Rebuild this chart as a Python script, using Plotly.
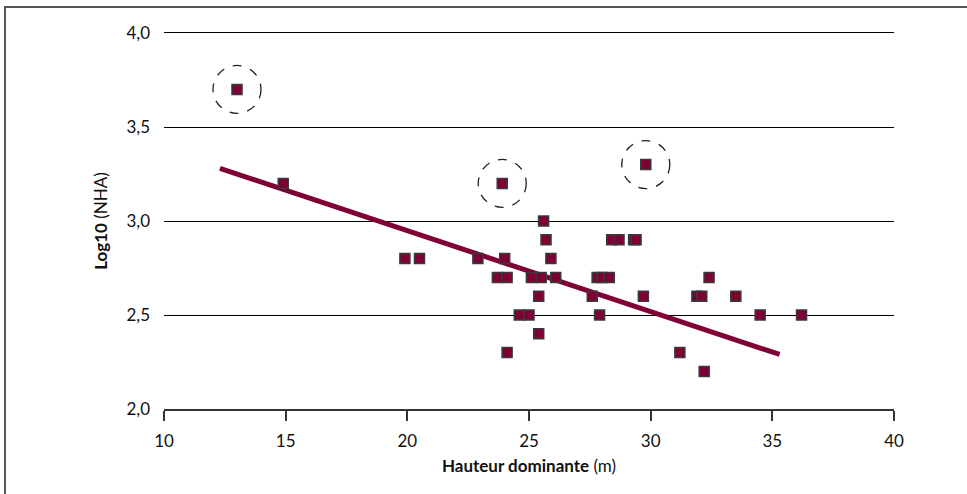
import plotly.graph_objects as go

# Data
hauteur = [13.0, 14.9, 19.9, 20.5, 22.9, 23.9, 24.0, 23.7, 24.1, 24.1,
           24.6, 25.0, 25.1, 25.4, 25.4, 25.5, 25.6, 25.7, 25.9, 26.1,
           27.6, 27.8, 27.9, 28.0, 28.3, 28.4, 28.7, 29.3, 29.4, 29.7,
           29.8, 31.2, 31.9, 32.1, 32.2, 32.4, 33.5, 34.5, 36.2]
log_nha = [3.7, 3.2, 2.8, 2.8, 2.8, 3.2, 2.8, 2.7, 2.7, 2.3,
           2.5, 2.5, 2.7, 2.6, 2.4, 2.7, 3.0, 2.9, 2.8, 2.7,
           2.6, 2.7, 2.5, 2.7, 2.7, 2.9, 2.9, 2.9, 2.9, 2.6,
           3.3, 2.3, 2.6, 2.6, 2.2, 2.7, 2.6, 2.5, 2.5]
trend_x = [12.3, 35.3]
trend_y = [3.28, 2.29]
outliers_x = [13.0, 23.9, 29.8]
outliers_y = [3.7, 3.2, 3.3]

x_ticks = [10, 15, 20, 25, 30, 35, 40]
y_ticks = [2.0, 2.5, 3.0, 3.5, 4.0]

MAROON = "#7f0035"
FONT = "Lato"

fig = go.Figure()
fig.add_trace(go.Scatter(x=trend_x, y=trend_y, mode="lines",
                         line=dict(color=MAROON, width=5), hoverinfo="skip"))
fig.add_trace(go.Scatter(x=hauteur, y=log_nha, mode="markers",
                         marker=dict(symbol="square", size=10, color=MAROON,
                                     line=dict(color="#3a3a3a", width=1.5))))

shapes = []
for ox, oy in zip(outliers_x, outliers_y):
    shapes.append(dict(type="circle", xref="x", yref="y",
                       xsizemode="pixel", ysizemode="pixel",
                       xanchor=ox, yanchor=oy, x0=-24, x1=24, y0=-24, y1=24,
                       line=dict(color="#222", width=1.3, dash="dash")))
# top gridline (at the upper edge of the y range), nudged half a pixel for crispness
top_y = 1 + 0.5 / 376
shapes.append(dict(type="line", xref="paper", yref="paper", x0=0, x1=1,
                   y0=top_y, y1=top_y, line=dict(color="#000", width=1), layer="below"))
# outer frame
shapes.append(dict(type="rect", xref="paper", yref="paper",
                   x0=(5 - 164) / 730, x1=1.3, y0=-0.5, y1=1 + (33 - 7) / 376,
                   line=dict(color="#555", width=2), layer="below"))

fig.update_layout(
    width=967, height=494,
    margin=dict(l=164, r=73, t=33, b=85),
    paper_bgcolor="white", plot_bgcolor="white",
    showlegend=False,
    separators=",.",
    font=dict(family=FONT, size=17, color="#111"),
    shapes=shapes,
    xaxis=dict(range=[10, 40], tickvals=x_ticks, ticks="outside", ticklen=10,
               tickcolor="#333", tickwidth=1.5, showline=True, linecolor="#333",
               linewidth=1.5, showgrid=False, zeroline=False,
               tickfont=dict(size=17), ticklabelstandoff=6,
               title=dict(text="<b>Hauteur dominante</b> (m)", font=dict(size=17),
                          standoff=10)),
    yaxis=dict(range=[2.0, 4.0], tickvals=y_ticks, tickformat=".1f", ticks="",
               showline=False, showgrid=True, gridcolor="#000", gridwidth=1,
               zeroline=False, ticklabelstandoff=13,
               tickfont=dict(size=17),
               title=dict(text="<b>Log10</b> (NHA)", font=dict(size=17),
                          standoff=14)),
)

fig.write_html("out.html")
